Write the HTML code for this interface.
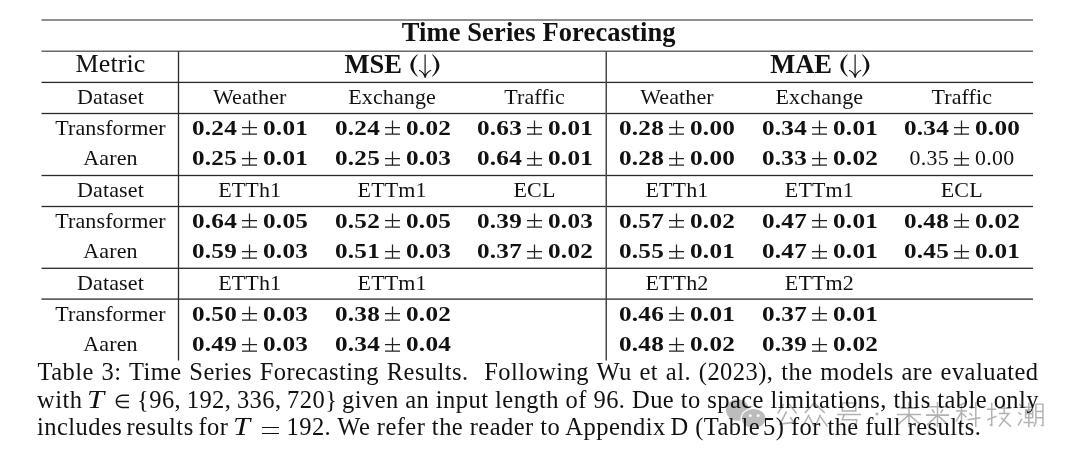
<!DOCTYPE html>
<html><head><meta charset="utf-8"><style>
html,body{margin:0;padding:0;background:#fff;}
body{width:1080px;height:458px;position:relative;overflow:hidden;filter:grayscale(1) blur(0.3px);font-family:"Liberation Serif",serif;color:#111;}
.t{position:absolute;width:600px;text-align:center;line-height:0;white-space:nowrap;letter-spacing:0.12px;}
.n{position:absolute;width:300px;text-align:right;line-height:0;white-space:nowrap;font-size:21px;transform:scaleX(1.2);transform-origin:right center;letter-spacing:0.2px;}
.n.r{text-align:left;transform-origin:left center;}
.n.rg{transform:scaleX(1.04);letter-spacing:0.3px;}
.pm{position:absolute;}
.h{position:absolute;line-height:0;white-space:nowrap;font-weight:bold;}
.ar{font-weight:normal;}
.c{position:absolute;left:37.5px;font-size:24.5px;line-height:0;white-space:nowrap;letter-spacing:0.45px;}
.cs{position:absolute;font-size:24.5px;line-height:0;white-space:nowrap;letter-spacing:0.45px;}
.el{font-size:19px;}
.it{display:inline-block;transform:scaleX(1.25);transform-origin:left;}
.th{display:inline-block;width:5.5px;}
.eq{display:inline-block;width:17px;height:7px;border-top:1.2px solid #111;border-bottom:1.2px solid #111;box-sizing:border-box;vertical-align:6.5px;}
svg{position:absolute;left:0;top:0;}
</style></head><body>
<svg width="1080" height="458" viewBox="0 0 1080 458"><rect x="41.5" y="19.35" width="991.5" height="1.3" fill="#555"/><rect x="41.5" y="50.55" width="991.5" height="1.3" fill="#505050"/><rect x="41.5" y="81.75" width="991.5" height="1.3" fill="#2a2a2a"/><rect x="41.5" y="112.85" width="991.5" height="1.3" fill="#2a2a2a"/><rect x="41.5" y="174.85" width="991.5" height="1.3" fill="#2a2a2a"/><rect x="41.5" y="205.85" width="991.5" height="1.3" fill="#2a2a2a"/><rect x="41.5" y="267.65" width="991.5" height="1.3" fill="#2a2a2a"/><rect x="41.5" y="298.45" width="991.5" height="1.3" fill="#2a2a2a"/><rect x="177.85" y="51.2" width="1.3" height="309.3" fill="#2a2a2a"/><rect x="605.50" y="51.2" width="1.5" height="309.3" fill="#484848"/><path transform="translate(775 401.5) scale(0.23 0.262)" d="M38 10 L12 46 M60 8 L94 46 M50 38 L22 86 L82 80 M66 60 L90 90" stroke="#b2b2b2" stroke-width="6.52" fill="none" vector-effect="none"/><path transform="translate(801 401.5) scale(0.27 0.262)" d="M50 4 L14 44 M50 6 L88 44 M30 50 L6 96 M30 58 L48 94 M72 50 L52 96 M72 58 L98 96" stroke="#b2b2b2" stroke-width="5.56" fill="none" vector-effect="none"/><path transform="translate(836 401.5) scale(0.26 0.262)" d="M24 6 H76 V36 H24 Z M4 50 H96 M32 50 L24 70 H80 Q80 96 62 94" stroke="#b2b2b2" stroke-width="5.77" fill="none" vector-effect="none"/><path transform="translate(896 401.5) scale(0.26 0.262)" d="M18 26 H82 M4 50 H96 M50 2 V98 M48 52 L8 88 M52 52 L94 88" stroke="#b2b2b2" stroke-width="5.77" fill="none" vector-effect="none"/><path transform="translate(925 401.5) scale(0.25 0.262)" d="M14 20 H86 M28 30 L38 44 M72 30 L62 44 M4 52 H96 M50 2 V98 M48 54 L8 90 M52 54 L94 90" stroke="#b2b2b2" stroke-width="6.00" fill="none" vector-effect="none"/><path transform="translate(955 401.5) scale(0.26 0.262)" d="M40 6 L8 16 M4 36 H46 M25 12 V98 M24 42 L4 76 M26 44 L44 60 M56 18 L66 28 M56 44 L66 54 M48 70 L98 62 M80 2 V98" stroke="#b2b2b2" stroke-width="5.77" fill="none" vector-effect="none"/><path transform="translate(986 401.5) scale(0.26 0.262)" d="M4 30 H38 M22 4 V92 L14 88 M4 70 L40 56 M46 26 H96 M70 4 V44 M50 46 H88 L50 96 M58 62 L96 96" stroke="#b2b2b2" stroke-width="5.77" fill="none" vector-effect="none"/><path transform="translate(1017 401.5) scale(0.27 0.262)" d="M8 10 L18 20 M4 42 L16 50 M4 92 L18 66 M26 22 H62 M44 4 V98 M32 32 H58 V62 H32 Z M32 47 H58 M24 80 H64 M70 10 V80 L62 96 M70 10 H96 V92 L88 92 M70 38 H96 M70 62 H96" stroke="#b2b2b2" stroke-width="5.56" fill="none" vector-effect="none"/><circle cx="877" cy="414" r="1.6" fill="#b2b2b2"/><ellipse cx="737.5" cy="410" rx="11.5" ry="10.8" fill="#bcbcbc"/><ellipse cx="753.6" cy="418.5" rx="13" ry="10.5" fill="#fff"/><ellipse cx="753.6" cy="418.5" rx="11.8" ry="9.5" fill="#bcbcbc"/><circle cx="750.3" cy="415.7" r="1.4" fill="#fff"/><circle cx="758.2" cy="415.7" r="1.4" fill="#fff"/></svg>
<div class="t" style="left:238.70px;top:32.46px;font-size:26.5px;font-weight:bold;">Time Series Forecasting</div>
<div class="t" style="left:-189.50px;top:63.93px;font-size:26px;font-weight:normal;">Metric</div>
<div class="h" style="left:344.60px;top:63.76px;font-size:26.5px">MSE</div>
<svg class="pm" style="left:409.50px;top:54.0px" width="30" height="24" viewBox="0 0 30 24" fill="#111"><path d="M7.4 0.2 C2.2 4.5 0.4 8 0.4 11.5 C0.4 15 2.2 18.5 7.4 22.8 L7.7 22.3 C4.3 18.5 3.4 15 3.4 11.5 C3.4 8 4.3 4.5 7.7 0.7 Z"/><path d="M22.4 0.2 C27.6 4.5 29.4 8 29.4 11.5 C29.4 15 27.6 18.5 22.4 22.8 L22.1 22.3 C25.5 18.5 26.4 15 26.4 11.5 C26.4 8 25.5 4.5 22.1 0.7 Z"/><path d="M15.1 0.5 V22.8 M9.1 16.3 C12 17.5 14 19.5 15.1 23.3 C16.2 19.5 18.2 17.5 21.1 16.3" stroke="#111" stroke-width="1.15" fill="none"/></svg>
<div class="h" style="left:770.20px;top:63.76px;font-size:26.5px">MAE</div>
<svg class="pm" style="left:839.60px;top:54.0px" width="30" height="24" viewBox="0 0 30 24" fill="#111"><path d="M7.4 0.2 C2.2 4.5 0.4 8 0.4 11.5 C0.4 15 2.2 18.5 7.4 22.8 L7.7 22.3 C4.3 18.5 3.4 15 3.4 11.5 C3.4 8 4.3 4.5 7.7 0.7 Z"/><path d="M22.4 0.2 C27.6 4.5 29.4 8 29.4 11.5 C29.4 15 27.6 18.5 22.4 22.8 L22.1 22.3 C25.5 18.5 26.4 15 26.4 11.5 C26.4 8 25.5 4.5 22.1 0.7 Z"/><path d="M15.1 0.5 V22.8 M9.1 16.3 C12 17.5 14 19.5 15.1 23.3 C16.2 19.5 18.2 17.5 21.1 16.3" stroke="#111" stroke-width="1.15" fill="none"/></svg>
<div class="t" style="left:-189.50px;top:96.58px;font-size:22px;font-weight:normal;">Dataset</div>
<div class="t" style="left:-50.29px;top:96.58px;font-size:22px;font-weight:normal;">Weather</div>
<div class="t" style="left:92.12px;top:96.58px;font-size:22px;font-weight:normal;">Exchange</div>
<div class="t" style="left:234.54px;top:96.58px;font-size:22px;font-weight:normal;">Traffic</div>
<div class="t" style="left:376.96px;top:96.58px;font-size:22px;font-weight:normal;">Weather</div>
<div class="t" style="left:519.38px;top:96.58px;font-size:22px;font-weight:normal;">Exchange</div>
<div class="t" style="left:661.79px;top:96.58px;font-size:22px;font-weight:normal;">Traffic</div>
<div class="t" style="left:-189.50px;top:127.58px;font-size:22px;font-weight:normal;">Transformer</div>
<div class="n" style="left:-62.79px;top:127.91px;font-weight:bold">0.24</div><svg class="pm" style="left:242.21px;top:120.00px" width="15.0" height="16" viewBox="0 0 15.0 16"><path d="M0 7.60H15.0M7.50 0.50V14.20M0 14.20H15.0" stroke="#222" stroke-width="1.25" fill="none"/></svg><div class="n r" style="left:263.21px;top:127.91px;font-weight:bold">0.01</div>
<div class="n" style="left:79.62px;top:127.91px;font-weight:bold">0.24</div><svg class="pm" style="left:384.62px;top:120.00px" width="15.0" height="16" viewBox="0 0 15.0 16"><path d="M0 7.60H15.0M7.50 0.50V14.20M0 14.20H15.0" stroke="#222" stroke-width="1.25" fill="none"/></svg><div class="n r" style="left:405.62px;top:127.91px;font-weight:bold">0.02</div>
<div class="n" style="left:222.04px;top:127.91px;font-weight:bold">0.63</div><svg class="pm" style="left:527.04px;top:120.00px" width="15.0" height="16" viewBox="0 0 15.0 16"><path d="M0 7.60H15.0M7.50 0.50V14.20M0 14.20H15.0" stroke="#222" stroke-width="1.25" fill="none"/></svg><div class="n r" style="left:548.04px;top:127.91px;font-weight:bold">0.01</div>
<div class="n" style="left:364.46px;top:127.91px;font-weight:bold">0.28</div><svg class="pm" style="left:669.46px;top:120.00px" width="15.0" height="16" viewBox="0 0 15.0 16"><path d="M0 7.60H15.0M7.50 0.50V14.20M0 14.20H15.0" stroke="#222" stroke-width="1.25" fill="none"/></svg><div class="n r" style="left:690.46px;top:127.91px;font-weight:bold">0.00</div>
<div class="n" style="left:506.88px;top:127.91px;font-weight:bold">0.34</div><svg class="pm" style="left:811.88px;top:120.00px" width="15.0" height="16" viewBox="0 0 15.0 16"><path d="M0 7.60H15.0M7.50 0.50V14.20M0 14.20H15.0" stroke="#222" stroke-width="1.25" fill="none"/></svg><div class="n r" style="left:832.88px;top:127.91px;font-weight:bold">0.01</div>
<div class="n" style="left:649.29px;top:127.91px;font-weight:bold">0.34</div><svg class="pm" style="left:954.29px;top:120.00px" width="15.0" height="16" viewBox="0 0 15.0 16"><path d="M0 7.60H15.0M7.50 0.50V14.20M0 14.20H15.0" stroke="#222" stroke-width="1.25" fill="none"/></svg><div class="n r" style="left:975.29px;top:127.91px;font-weight:bold">0.00</div>
<div class="t" style="left:-189.50px;top:158.07px;font-size:22px;font-weight:normal;">Aaren</div>
<div class="n" style="left:-62.79px;top:158.41px;font-weight:bold">0.25</div><svg class="pm" style="left:242.21px;top:150.50px" width="15.0" height="16" viewBox="0 0 15.0 16"><path d="M0 7.60H15.0M7.50 0.50V14.20M0 14.20H15.0" stroke="#222" stroke-width="1.25" fill="none"/></svg><div class="n r" style="left:263.21px;top:158.41px;font-weight:bold">0.01</div>
<div class="n" style="left:79.62px;top:158.41px;font-weight:bold">0.25</div><svg class="pm" style="left:384.62px;top:150.50px" width="15.0" height="16" viewBox="0 0 15.0 16"><path d="M0 7.60H15.0M7.50 0.50V14.20M0 14.20H15.0" stroke="#222" stroke-width="1.25" fill="none"/></svg><div class="n r" style="left:405.62px;top:158.41px;font-weight:bold">0.03</div>
<div class="n" style="left:222.04px;top:158.41px;font-weight:bold">0.64</div><svg class="pm" style="left:527.04px;top:150.50px" width="15.0" height="16" viewBox="0 0 15.0 16"><path d="M0 7.60H15.0M7.50 0.50V14.20M0 14.20H15.0" stroke="#222" stroke-width="1.25" fill="none"/></svg><div class="n r" style="left:548.04px;top:158.41px;font-weight:bold">0.01</div>
<div class="n" style="left:364.46px;top:158.41px;font-weight:bold">0.28</div><svg class="pm" style="left:669.46px;top:150.50px" width="15.0" height="16" viewBox="0 0 15.0 16"><path d="M0 7.60H15.0M7.50 0.50V14.20M0 14.20H15.0" stroke="#222" stroke-width="1.25" fill="none"/></svg><div class="n r" style="left:690.46px;top:158.41px;font-weight:bold">0.00</div>
<div class="n" style="left:506.88px;top:158.41px;font-weight:bold">0.33</div><svg class="pm" style="left:811.88px;top:150.50px" width="15.0" height="16" viewBox="0 0 15.0 16"><path d="M0 7.60H15.0M7.50 0.50V14.20M0 14.20H15.0" stroke="#222" stroke-width="1.25" fill="none"/></svg><div class="n r" style="left:832.88px;top:158.41px;font-weight:bold">0.02</div>
<div class="n rg" style="left:649.29px;top:158.41px;font-weight:normal">0.35</div><svg class="pm" style="left:954.29px;top:150.50px" width="15.0" height="16" viewBox="0 0 15.0 16"><path d="M0 7.60H15.0M7.50 0.50V14.20M0 14.20H15.0" stroke="#222" stroke-width="1.25" fill="none"/></svg><div class="n rg r" style="left:975.29px;top:158.41px;font-weight:normal">0.00</div>
<div class="t" style="left:-189.50px;top:189.57px;font-size:22px;font-weight:normal;">Dataset</div>
<div class="t" style="left:-50.29px;top:189.57px;font-size:22px;font-weight:normal;">ETTh1</div>
<div class="t" style="left:92.12px;top:189.57px;font-size:22px;font-weight:normal;">ETTm1</div>
<div class="t" style="left:234.54px;top:189.57px;font-size:22px;font-weight:normal;">ECL</div>
<div class="t" style="left:376.96px;top:189.57px;font-size:22px;font-weight:normal;">ETTh1</div>
<div class="t" style="left:519.38px;top:189.57px;font-size:22px;font-weight:normal;">ETTm1</div>
<div class="t" style="left:661.79px;top:189.57px;font-size:22px;font-weight:normal;">ECL</div>
<div class="t" style="left:-189.50px;top:220.57px;font-size:22px;font-weight:normal;">Transformer</div>
<div class="n" style="left:-62.79px;top:220.91px;font-weight:bold">0.64</div><svg class="pm" style="left:242.21px;top:213.00px" width="15.0" height="16" viewBox="0 0 15.0 16"><path d="M0 7.60H15.0M7.50 0.50V14.20M0 14.20H15.0" stroke="#222" stroke-width="1.25" fill="none"/></svg><div class="n r" style="left:263.21px;top:220.91px;font-weight:bold">0.05</div>
<div class="n" style="left:79.62px;top:220.91px;font-weight:bold">0.52</div><svg class="pm" style="left:384.62px;top:213.00px" width="15.0" height="16" viewBox="0 0 15.0 16"><path d="M0 7.60H15.0M7.50 0.50V14.20M0 14.20H15.0" stroke="#222" stroke-width="1.25" fill="none"/></svg><div class="n r" style="left:405.62px;top:220.91px;font-weight:bold">0.05</div>
<div class="n" style="left:222.04px;top:220.91px;font-weight:bold">0.39</div><svg class="pm" style="left:527.04px;top:213.00px" width="15.0" height="16" viewBox="0 0 15.0 16"><path d="M0 7.60H15.0M7.50 0.50V14.20M0 14.20H15.0" stroke="#222" stroke-width="1.25" fill="none"/></svg><div class="n r" style="left:548.04px;top:220.91px;font-weight:bold">0.03</div>
<div class="n" style="left:364.46px;top:220.91px;font-weight:bold">0.57</div><svg class="pm" style="left:669.46px;top:213.00px" width="15.0" height="16" viewBox="0 0 15.0 16"><path d="M0 7.60H15.0M7.50 0.50V14.20M0 14.20H15.0" stroke="#222" stroke-width="1.25" fill="none"/></svg><div class="n r" style="left:690.46px;top:220.91px;font-weight:bold">0.02</div>
<div class="n" style="left:506.88px;top:220.91px;font-weight:bold">0.47</div><svg class="pm" style="left:811.88px;top:213.00px" width="15.0" height="16" viewBox="0 0 15.0 16"><path d="M0 7.60H15.0M7.50 0.50V14.20M0 14.20H15.0" stroke="#222" stroke-width="1.25" fill="none"/></svg><div class="n r" style="left:832.88px;top:220.91px;font-weight:bold">0.01</div>
<div class="n" style="left:649.29px;top:220.91px;font-weight:bold">0.48</div><svg class="pm" style="left:954.29px;top:213.00px" width="15.0" height="16" viewBox="0 0 15.0 16"><path d="M0 7.60H15.0M7.50 0.50V14.20M0 14.20H15.0" stroke="#222" stroke-width="1.25" fill="none"/></svg><div class="n r" style="left:975.29px;top:220.91px;font-weight:bold">0.02</div>
<div class="t" style="left:-189.50px;top:251.07px;font-size:22px;font-weight:normal;">Aaren</div>
<div class="n" style="left:-62.79px;top:251.41px;font-weight:bold">0.59</div><svg class="pm" style="left:242.21px;top:243.50px" width="15.0" height="16" viewBox="0 0 15.0 16"><path d="M0 7.60H15.0M7.50 0.50V14.20M0 14.20H15.0" stroke="#222" stroke-width="1.25" fill="none"/></svg><div class="n r" style="left:263.21px;top:251.41px;font-weight:bold">0.03</div>
<div class="n" style="left:79.62px;top:251.41px;font-weight:bold">0.51</div><svg class="pm" style="left:384.62px;top:243.50px" width="15.0" height="16" viewBox="0 0 15.0 16"><path d="M0 7.60H15.0M7.50 0.50V14.20M0 14.20H15.0" stroke="#222" stroke-width="1.25" fill="none"/></svg><div class="n r" style="left:405.62px;top:251.41px;font-weight:bold">0.03</div>
<div class="n" style="left:222.04px;top:251.41px;font-weight:bold">0.37</div><svg class="pm" style="left:527.04px;top:243.50px" width="15.0" height="16" viewBox="0 0 15.0 16"><path d="M0 7.60H15.0M7.50 0.50V14.20M0 14.20H15.0" stroke="#222" stroke-width="1.25" fill="none"/></svg><div class="n r" style="left:548.04px;top:251.41px;font-weight:bold">0.02</div>
<div class="n" style="left:364.46px;top:251.41px;font-weight:bold">0.55</div><svg class="pm" style="left:669.46px;top:243.50px" width="15.0" height="16" viewBox="0 0 15.0 16"><path d="M0 7.60H15.0M7.50 0.50V14.20M0 14.20H15.0" stroke="#222" stroke-width="1.25" fill="none"/></svg><div class="n r" style="left:690.46px;top:251.41px;font-weight:bold">0.01</div>
<div class="n" style="left:506.88px;top:251.41px;font-weight:bold">0.47</div><svg class="pm" style="left:811.88px;top:243.50px" width="15.0" height="16" viewBox="0 0 15.0 16"><path d="M0 7.60H15.0M7.50 0.50V14.20M0 14.20H15.0" stroke="#222" stroke-width="1.25" fill="none"/></svg><div class="n r" style="left:832.88px;top:251.41px;font-weight:bold">0.01</div>
<div class="n" style="left:649.29px;top:251.41px;font-weight:bold">0.45</div><svg class="pm" style="left:954.29px;top:243.50px" width="15.0" height="16" viewBox="0 0 15.0 16"><path d="M0 7.60H15.0M7.50 0.50V14.20M0 14.20H15.0" stroke="#222" stroke-width="1.25" fill="none"/></svg><div class="n r" style="left:975.29px;top:251.41px;font-weight:bold">0.01</div>
<div class="t" style="left:-189.50px;top:282.57px;font-size:22px;font-weight:normal;">Dataset</div>
<div class="t" style="left:-50.29px;top:282.57px;font-size:22px;font-weight:normal;">ETTh1</div>
<div class="t" style="left:92.12px;top:282.57px;font-size:22px;font-weight:normal;">ETTm1</div>
<div class="t" style="left:376.96px;top:282.57px;font-size:22px;font-weight:normal;">ETTh2</div>
<div class="t" style="left:519.38px;top:282.57px;font-size:22px;font-weight:normal;">ETTm2</div>
<div class="t" style="left:-189.50px;top:313.57px;font-size:22px;font-weight:normal;">Transformer</div>
<div class="n" style="left:-62.79px;top:313.91px;font-weight:bold">0.50</div><svg class="pm" style="left:242.21px;top:306.00px" width="15.0" height="16" viewBox="0 0 15.0 16"><path d="M0 7.60H15.0M7.50 0.50V14.20M0 14.20H15.0" stroke="#222" stroke-width="1.25" fill="none"/></svg><div class="n r" style="left:263.21px;top:313.91px;font-weight:bold">0.03</div>
<div class="n" style="left:79.62px;top:313.91px;font-weight:bold">0.38</div><svg class="pm" style="left:384.62px;top:306.00px" width="15.0" height="16" viewBox="0 0 15.0 16"><path d="M0 7.60H15.0M7.50 0.50V14.20M0 14.20H15.0" stroke="#222" stroke-width="1.25" fill="none"/></svg><div class="n r" style="left:405.62px;top:313.91px;font-weight:bold">0.02</div>
<div class="n" style="left:364.46px;top:313.91px;font-weight:bold">0.46</div><svg class="pm" style="left:669.46px;top:306.00px" width="15.0" height="16" viewBox="0 0 15.0 16"><path d="M0 7.60H15.0M7.50 0.50V14.20M0 14.20H15.0" stroke="#222" stroke-width="1.25" fill="none"/></svg><div class="n r" style="left:690.46px;top:313.91px;font-weight:bold">0.01</div>
<div class="n" style="left:506.88px;top:313.91px;font-weight:bold">0.37</div><svg class="pm" style="left:811.88px;top:306.00px" width="15.0" height="16" viewBox="0 0 15.0 16"><path d="M0 7.60H15.0M7.50 0.50V14.20M0 14.20H15.0" stroke="#222" stroke-width="1.25" fill="none"/></svg><div class="n r" style="left:832.88px;top:313.91px;font-weight:bold">0.01</div>
<div class="t" style="left:-189.50px;top:344.07px;font-size:22px;font-weight:normal;">Aaren</div>
<div class="n" style="left:-62.79px;top:344.41px;font-weight:bold">0.49</div><svg class="pm" style="left:242.21px;top:336.50px" width="15.0" height="16" viewBox="0 0 15.0 16"><path d="M0 7.60H15.0M7.50 0.50V14.20M0 14.20H15.0" stroke="#222" stroke-width="1.25" fill="none"/></svg><div class="n r" style="left:263.21px;top:344.41px;font-weight:bold">0.03</div>
<div class="n" style="left:79.62px;top:344.41px;font-weight:bold">0.34</div><svg class="pm" style="left:384.62px;top:336.50px" width="15.0" height="16" viewBox="0 0 15.0 16"><path d="M0 7.60H15.0M7.50 0.50V14.20M0 14.20H15.0" stroke="#222" stroke-width="1.25" fill="none"/></svg><div class="n r" style="left:405.62px;top:344.41px;font-weight:bold">0.04</div>
<div class="n" style="left:364.46px;top:344.41px;font-weight:bold">0.48</div><svg class="pm" style="left:669.46px;top:336.50px" width="15.0" height="16" viewBox="0 0 15.0 16"><path d="M0 7.60H15.0M7.50 0.50V14.20M0 14.20H15.0" stroke="#222" stroke-width="1.25" fill="none"/></svg><div class="n r" style="left:690.46px;top:344.41px;font-weight:bold">0.02</div>
<div class="n" style="left:506.88px;top:344.41px;font-weight:bold">0.39</div><svg class="pm" style="left:811.88px;top:336.50px" width="15.0" height="16" viewBox="0 0 15.0 16"><path d="M0 7.60H15.0M7.50 0.50V14.20M0 14.20H15.0" stroke="#222" stroke-width="1.25" fill="none"/></svg><div class="n r" style="left:832.88px;top:344.41px;font-weight:bold">0.02</div>
<div class="c" style="top:371.83px;width:1001px;text-align:justify;text-align-last:justify">Table 3: Time Series Forecasting Results. &nbsp;Following Wu et al. (2023), the models are evaluated</div>
<div class="cs" style="left:37.00px;top:400.43px">with</div>
<div class="cs" style="left:87.00px;top:400.43px"><i class="it">T</i></div>
<div class="cs" style="left:114.00px;top:400.43px"><span class="el">∈</span></div>
<div class="cs" style="left:137.00px;top:400.43px">{96,<span class="th"></span>192,<span class="th"></span>336,<span class="th"></span>720}</div>
<div class="cs" style="left:342.00px;top:400.43px;width:697px;text-align:justify;text-align-last:justify">given an input length of 96. Due to space limitations, this table only</div>
<div class="cs" style="left:37.00px;top:427.33px">includes</div>
<div class="cs" style="left:126.50px;top:427.33px">results</div>
<div class="cs" style="left:198.50px;top:427.33px">for</div>
<div class="cs" style="left:233.00px;top:427.33px"><i class="it">T</i></div>
<div class="cs" style="left:261.50px;top:427.33px"><span class="eq"></span></div>
<div class="cs" style="left:286.50px;top:427.33px">192. We refer the reader to Appendix</div>
<div class="cs" style="left:670.50px;top:427.33px">D (Table</div>
<div class="cs" style="left:763.00px;top:427.33px">5) for the full results.</div>
</body></html>
